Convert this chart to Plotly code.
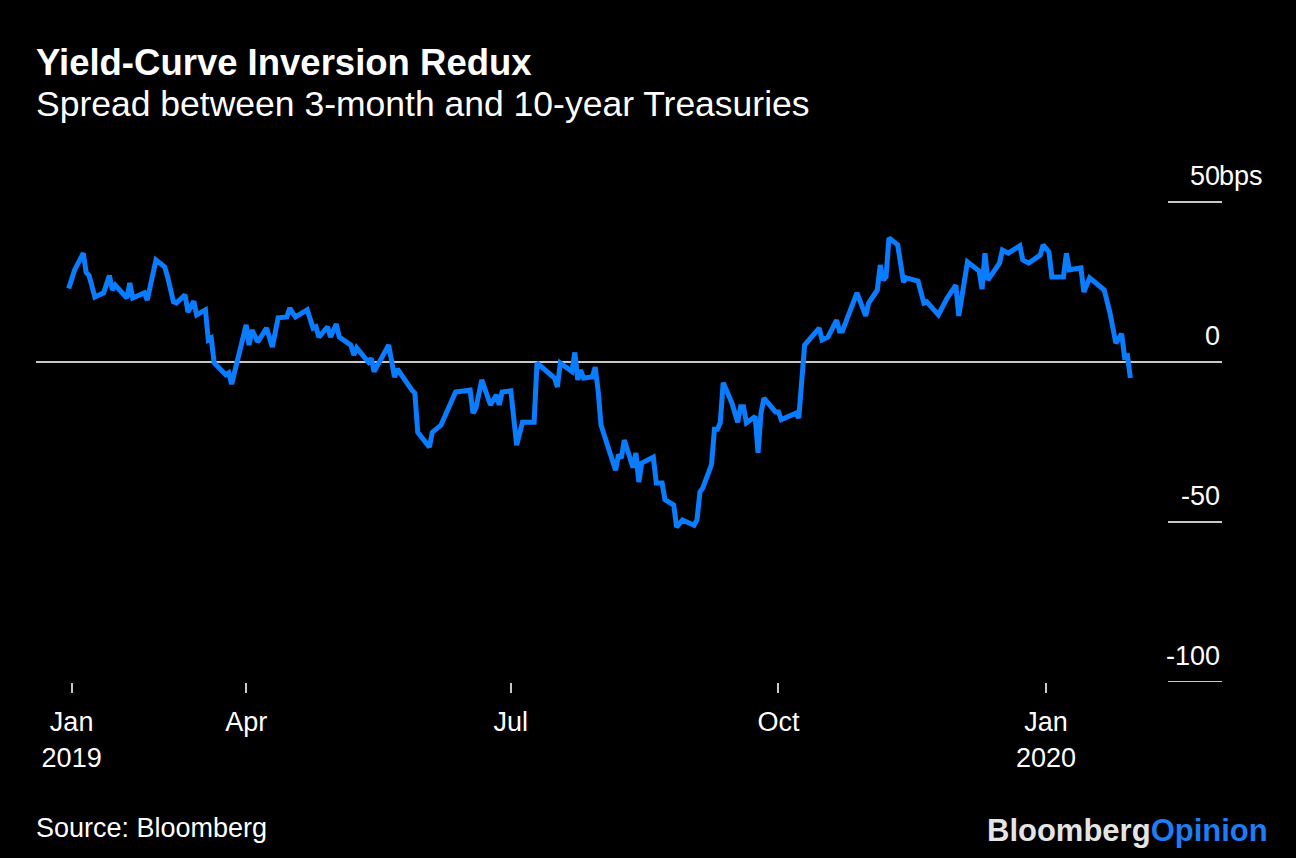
import plotly.graph_objects as go

# ---- data ----
dates = [
    "2019-01-30", "2019-02-01", "2019-02-04", "2019-02-05", "2019-02-06", "2019-02-08",
    "2019-02-11", "2019-02-13", "2019-02-14", "2019-02-15", "2019-02-19", "2019-02-20",
    "2019-02-21", "2019-02-25", "2019-02-26", "2019-03-01", "2019-03-04", "2019-03-05",
    "2019-03-07", "2019-03-08", "2019-03-11", "2019-03-12", "2019-03-14", "2019-03-15",
    "2019-03-18", "2019-03-19", "2019-03-20", "2019-03-21", "2019-03-25", "2019-03-26",
    "2019-03-27", "2019-04-01", "2019-04-02", "2019-04-03", "2019-04-05", "2019-04-08",
    "2019-04-10", "2019-04-12", "2019-04-15", "2019-04-16", "2019-04-17", "2019-04-18",
    "2019-04-22", "2019-04-24", "2019-04-25", "2019-04-26", "2019-04-29", "2019-04-30",
    "2019-05-02", "2019-05-03", "2019-05-06", "2019-05-07", "2019-05-08", "2019-05-09",
    "2019-05-13", "2019-05-14", "2019-05-15", "2019-05-20", "2019-05-22", "2019-05-23",
    "2019-05-28", "2019-05-29", "2019-05-30", "2019-06-03", "2019-06-04", "2019-06-07",
    "2019-06-12", "2019-06-17", "2019-06-18", "2019-06-19", "2019-06-21", "2019-06-24",
    "2019-06-26", "2019-06-27", "2019-06-28", "2019-07-01", "2019-07-03", "2019-07-05",
    "2019-07-09", "2019-07-10", "2019-07-16", "2019-07-17", "2019-07-18", "2019-07-22",
    "2019-07-23", "2019-07-24", "2019-07-25", "2019-07-26", "2019-07-29", "2019-07-30",
    "2019-07-31", "2019-08-01", "2019-08-06", "2019-08-07", "2019-08-08", "2019-08-09",
    "2019-08-12", "2019-08-13", "2019-08-14", "2019-08-15", "2019-08-19", "2019-08-20",
    "2019-08-22", "2019-08-23", "2019-08-26", "2019-08-27", "2019-08-29", "2019-09-02",
    "2019-09-03", "2019-09-04", "2019-09-05", "2019-09-08", "2019-09-09", "2019-09-10",
    "2019-09-11", "2019-09-12", "2019-09-15", "2019-09-17", "2019-09-18", "2019-09-19",
    "2019-09-20", "2019-09-23", "2019-09-24", "2019-09-25", "2019-09-26", "2019-09-30",
    "2019-10-01", "2019-10-02", "2019-10-07", "2019-10-08", "2019-10-10", "2019-10-15",
    "2019-10-16", "2019-10-18", "2019-10-21", "2019-10-22", "2019-10-23", "2019-10-28",
    "2019-10-31", "2019-11-01", "2019-11-04", "2019-11-05", "2019-11-06", "2019-11-07",
    "2019-11-08", "2019-11-11", "2019-11-13", "2019-11-14", "2019-11-18", "2019-11-20",
    "2019-11-21", "2019-11-25", "2019-11-28", "2019-12-01", "2019-12-02", "2019-12-05",
    "2019-12-09", "2019-12-10", "2019-12-11", "2019-12-12", "2019-12-16", "2019-12-17",
    "2019-12-19", "2019-12-23", "2019-12-24", "2019-12-26", "2019-12-30", "2019-12-31",
    "2020-01-02", "2020-01-03", "2020-01-07", "2020-01-08", "2020-01-09", "2020-01-13",
    "2020-01-14", "2020-01-16", "2020-01-21", "2020-01-23", "2020-01-25", "2020-01-27",
    "2020-01-28", "2020-01-29", "2020-01-30",
]

spread_bps = [
    23, 28.7, 34, 28, 27, 20.3,
    21.6, 27, 22.5, 24, 20, 24.7,
    20, 21.6, 19.4, 31.9, 29.7, 26.6,
    18.8, 18.4, 21, 15.6, 19, 14.7,
    16.3, 6.9, 7.5, -0.3, -4, -3.4,
    -6.9, 11.6, 5.3, 10, 6.3, 10.6,
    4.7, 13.8, 14.1, 16.9, 15.3, 14.1,
    16.3, 10.6, 11, 7.8, 11, 7.8,
    11.9, 7.8, 5.9, 5.3, 2.2, 4.4,
    0, 1.2, -3, 5.3, -4.7, -2.2,
    -8.8, -9.7, -22, -26.6, -22, -19.7,
    -9.4, -8.8, -16, -14.4, -5.6, -13.4,
    -10.3, -13.4, -9.4, -9, -26, -18.8,
    -18.8, -0.3, -5, -7.8, -0.3, -3,
    3, -5.6, -2.5, -5, -4.7, -1.6,
    -8.8, -19.7, -33.8, -29, -30, -24.4,
    -33, -28.4, -37.5, -31.6, -29.7, -37.8,
    -37.8, -43, -44.7, -51.6, -49.4, -51,
    -49.4, -40.6, -39.4, -32, -21, -21,
    -19, -6.5, -12.8, -18.8, -14, -14,
    -19, -17, -28.4, -16, -11.3, -15.6,
    -15.6, -18, -16, -17.5, 5.3, 10.6,
    6.9, 7.8, 13.1, 9.7, 9.7, 21.6,
    14.4, 18.4, 22.5, 30.3, 25.6, 26.6,
    38.8, 36.6, 25, 26.3, 25.3, 18.4,
    18.8, 14.7, 20, 24, 14.4, 31.3,
    28.4, 22.8, 34, 25.6, 30.9, 35,
    34, 36.3, 31.9, 30.9, 33.4, 36.6,
    34.4, 26.6, 26.6, 34, 28.8, 29.4,
    21.9, 26.3, 22.5, 15.3, 5.9, 8.8,
    1.6, 1.9, -5,
]

x_tick_dates = ["2019-01-31", "2019-04-01", "2019-07-01", "2019-10-01", "2020-01-01"]
x_tick_labels = ["Jan<br>2019", "Apr", "Jul", "Oct", "Jan<br>2020"]
y_tick_values = [50, 0, -50, -100]
y_tick_labels = ["50", "0", "-50", "-100"]
y_unit = "bps"

title = "Yield-Curve Inversion Redux"
subtitle = "Spread between 3-month and 10-year Treasuries"
source = "Source: Bloomberg"

# ---- styling ----
W, H = 1296, 858
ML, MR, MT, MB = 36, 74, 170, 176
PW, PH = W - ML - MR, H - MT - MB
FONT = "Liberation Sans, Arial, Helvetica, sans-serif"
BLUE = "#0a7cff"
AXIS_GRAY = "#c8c8c8"


def px_to_paper_y(py):
    return (H - MB - py) / PH


def px_to_paper_x(px):
    return (px - ML) / PW


fig = go.Figure()
fig.add_trace(go.Scatter(
    x=dates, y=spread_bps, mode="lines",
    line=dict(color=BLUE, width=5),
    hoverinfo="x+y", showlegend=False,
))

shapes = []
annotations = []
for v, lab in zip(y_tick_values, y_tick_labels):
    if v == 0:
        shapes.append(dict(type="line", xref="paper", yref="y", x0=0, x1=1, y0=v, y1=v,
                           line=dict(color=AXIS_GRAY, width=2), layer="below"))
    else:
        shapes.append(dict(type="line", xref="paper", yref="y",
                           x0=px_to_paper_x(1168), x1=1, y0=v, y1=v,
                           line=dict(color=AXIS_GRAY, width=2), layer="below"))
    annotations.append(dict(xref="paper", yref="y", x=1, y=v, text=lab,
                            xanchor="right", yanchor="bottom", yshift=9, showarrow=False,
                            font=dict(family=FONT, size=27, color="white")))
    if v == max(y_tick_values):
        annotations.append(dict(xref="paper", yref="y", x=1, y=v, text=y_unit,
                                xanchor="left", yanchor="bottom", yshift=9, xshift=-5,
                                showarrow=False,
                                font=dict(family=FONT, size=27, color="white")))

annotations += [
    dict(xref="paper", yref="paper", x=0, y=px_to_paper_y(62), text="<b>" + title + "</b>",
         xanchor="left", yanchor="middle", showarrow=False, xshift=-2,
         font=dict(family=FONT, size=36.5, color="white")),
    dict(xref="paper", yref="paper", x=0, y=px_to_paper_y(104), text=subtitle,
         xanchor="left", yanchor="middle", showarrow=False, xshift=-2,
         font=dict(family=FONT, size=35.5, color="white")),
    dict(xref="paper", yref="paper", x=0, y=px_to_paper_y(828), text=source,
         xanchor="left", yanchor="middle", showarrow=False, xshift=-2,
         font=dict(family=FONT, size=27, color="white")),
    dict(xref="paper", yref="paper", x=px_to_paper_x(1268), y=px_to_paper_y(830),
         text="<b><span style='color:#e4e4e4'>Bloomberg</span><span style='color:#1f7cf2'>Opinion</span></b>",
         xanchor="right", yanchor="middle", showarrow=False, xshift=2,
         font=dict(family=FONT, size=31, color="#e4e4e4")),
]

fig.update_layout(
    width=W, height=H,
    margin=dict(l=ML, r=MR, t=MT, b=MB, pad=0),
    paper_bgcolor="black", plot_bgcolor="black",
    font=dict(family=FONT, color="white"),
    shapes=shapes, annotations=annotations,
    xaxis=dict(
        type="date", range=["2019-01-18 18:00", "2020-03-01 12:00"],
        tickmode="array", tickvals=x_tick_dates, ticktext=x_tick_labels,
        ticks="outside", ticklen=10, tickwidth=1.5, tickcolor=AXIS_GRAY,
        ticklabelstandoff=6,
        showgrid=False, zeroline=False, showline=False,
        tickfont=dict(family=FONT, size=27, color="white"),
        fixedrange=True,
    ),
    yaxis=dict(
        range=[-100, 60], showgrid=False, zeroline=False, showline=False,
        showticklabels=False, ticks="", fixedrange=True,
    ),
)

fig.write_html(
    "out.html",
    config={"displayModeBar": False},
    post_script="document.body.style.margin='0';document.body.style.background='black';",
)
